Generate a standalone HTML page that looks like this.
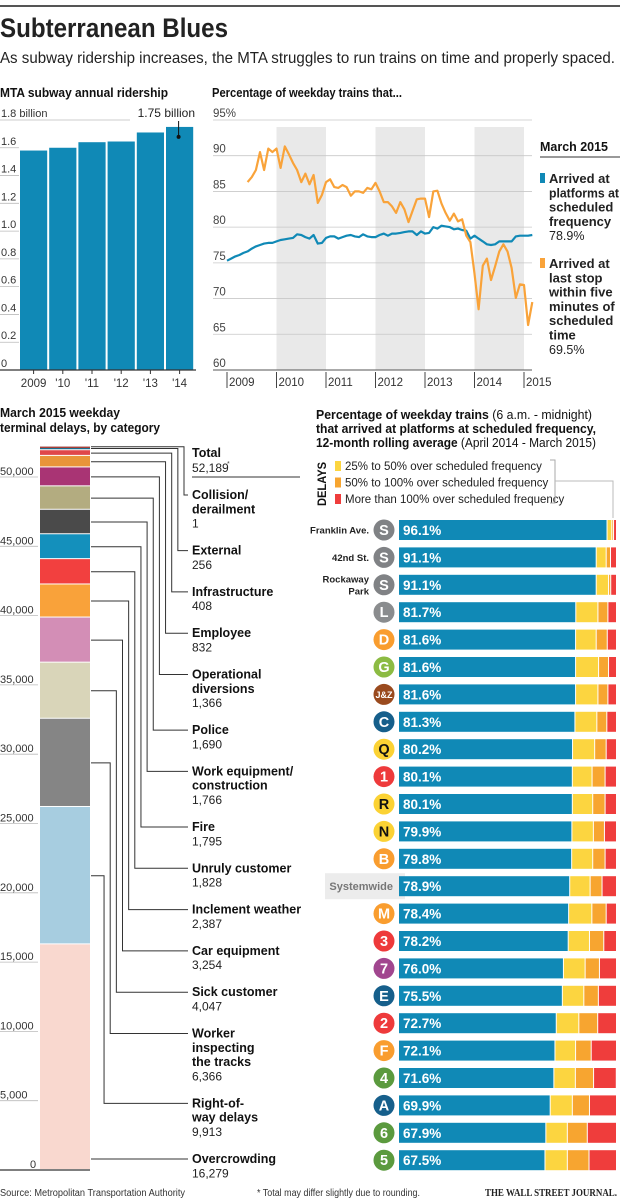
<!DOCTYPE html>
<html><head><meta charset="utf-8"><style>
html,body{margin:0;padding:0;background:#fff;}
svg{display:block;font-family:"Liberation Sans",sans-serif;}
.b{font-weight:bold;}
</style></head><body>
<svg id="root" width="620" height="1200" viewBox="0 0 620 1200" xmlns="http://www.w3.org/2000/svg">
<rect x="0" y="5" width="620" height="2" fill="#555"/>
<text x="0" y="37" font-size="27" class="b" fill="#222" textLength="228" lengthAdjust="spacingAndGlyphs">Subterranean Blues</text>
<text x="0" y="63" font-size="16" fill="#222" textLength="615" lengthAdjust="spacingAndGlyphs">As subway ridership increases, the MTA struggles to run trains on time and properly spaced.</text>
<text x="0" y="97" font-size="13" class="b" fill="#111" textLength="168" lengthAdjust="spacingAndGlyphs">MTA subway annual ridership</text>
<text x="212" y="97" font-size="13" class="b" fill="#111" textLength="190" lengthAdjust="spacingAndGlyphs">Percentage of weekday trains that...</text>
<text x="0" y="417" font-size="13" class="b" fill="#111" textLength="120" lengthAdjust="spacingAndGlyphs">March 2015 weekday</text>
<text x="0" y="432" font-size="13" class="b" fill="#111" textLength="160" lengthAdjust="spacingAndGlyphs">terminal delays, by category</text>
<text x="316" y="419" font-size="13" fill="#111" textLength="276" lengthAdjust="spacingAndGlyphs"><tspan class="b">Percentage of weekday trains</tspan> (6 a.m. - midnight)</text>
<text x="316" y="433" font-size="13" class="b" fill="#111" textLength="280" lengthAdjust="spacingAndGlyphs">that arrived at platforms at scheduled frequency,</text>
<text x="316" y="447" font-size="13" fill="#111" textLength="280" lengthAdjust="spacingAndGlyphs"><tspan class="b">12-month rolling average</tspan> (April 2014 - March 2015)</text>
<text x="0" y="1196" font-size="10" fill="#333" textLength="185" lengthAdjust="spacingAndGlyphs">Source: Metropolitan Transportation Authority</text>
<text x="257" y="1196" font-size="10" fill="#333" textLength="163" lengthAdjust="spacingAndGlyphs">* Total may differ slightly due to rounding.</text>
<text x="485" y="1196" font-size="11" fill="#222" font-weight="bold" font-family="Liberation Serif, serif" textLength="132" lengthAdjust="spacingAndGlyphs">THE WALL STREET JOURNAL.</text>
<g id="g1"></g>
<g id="g2"></g>
<g id="g3"></g>
<g id="g4"></g>
</svg>
<script>
// ---------- data ----------
const riderYears = ['2009', "'10", "'11", "'12", "'13", "'14"];
const riderValues = [1.58, 1.60, 1.64, 1.645, 1.71, 1.75];
const riderTicks = [0, 0.2, 0.4, 0.6, 0.8, 1.0, 1.2, 1.4, 1.6, 1.8];
const riderTickLabels = ['0', '0.2', '0.4', '0.6', '0.8', '1.0', '1.2', '1.4', '1.6', '1.8 billion'];

const lineYears = ['2009', '2010', '2011', '2012', '2013', '2014', '2015'];
const lineTicks = [60, 65, 70, 75, 80, 85, 90, 95];
const lineTickLabels = ['60', '65', '70', '75', '80', '85', '90', '95%'];
const platformSeries = [
  75.3,75.6,75.9,76.1,76.4,76.6,77.0,77.3,77.5,77.7,77.8,77.8,
  78.0,78.2,78.3,78.4,78.5,79.0,78.9,78.6,78.4,78.9,77.7,77.8,
  78.5,78.7,78.7,78.4,78.6,78.8,78.9,78.7,78.6,79.0,78.7,78.6,
  78.6,78.9,79.1,78.8,79.1,79.1,79.2,79.3,79.4,79.4,78.9,79.4,
  79.1,79.2,80.0,79.8,80.2,80.1,80.0,79.7,79.8,79.6,79.5,78.4,
  78.8,78.4,78.0,77.6,77.5,77.6,78.0,78.0,78.0,78.0,78.7,78.8,
  78.8,78.8,78.9];
const lastStopStart = 5;
const lastStopSeries = [
  86.3,87.0,88.0,90.5,88.0,91.0,90.5,
  91.0,88.3,91.3,90.2,89.0,88.0,86.3,87.5,86.0,87.3,83.4,84.5,
  86.3,86.7,85.6,85.5,85.9,85.6,84.4,85.0,85.0,84.8,85.5,85.3,
  86.2,85.0,83.5,83.5,82.9,82.0,83.5,82.5,80.7,82.3,83.9,84.0,
  84.0,81.4,85.0,85.1,83.3,82.0,80.9,81.9,80.8,81.1,78.8,77.9,
  73.5,68.5,74.6,75.6,72.6,74.5,76.6,77.6,76.6,74.3,70.1,72.0,
  71.9,66.3,69.5];

const delayCategories = ['Overcrowding','Right-of-|way delays','Worker|inspecting|the tracks','Sick customer','Car equipment','Inclement weather','Unruly customer','Fire','Work equipment/|construction','Police','Operational|diversions','Employee','Infrastructure','External','Collision/|derailment'];
const delayValues = [16279, 9913, 6366, 4047, 3254, 2387, 1828, 1795, 1766, 1690, 1366, 832, 408, 256, 1];
const delayTotal = 52189;
const delayTicks = [0, 5000, 10000, 15000, 20000, 25000, 30000, 35000, 40000, 45000, 50000];
const delayTickLabels = ['0','5,000','10,000','15,000','20,000','25,000','30,000','35,000','40,000','45,000','50,000'];

const routeNames = ['S','S','S','L','D','G','J&Z','C','Q','1','R','N','B','Systemwide','M','3','7','E','2','F','4','A','6','5'];
const routeSideLabels = ['Franklin Ave.','42nd St.','Rockaway|Park','','','','','','','','','','','','','','','','','','','','',''];
const onTimePct = [96.1,91.1,91.1,81.7,81.6,81.6,81.6,81.3,80.2,80.1,80.1,79.9,79.8,78.9,78.4,78.2,76.0,75.5,72.7,72.1,71.6,69.9,67.9,67.5];
const delay25to50 = [2.2,4.6,5.7,10.2,9.5,10.6,10.3,10.1,10.2,9.1,9.4,9.9,9.7,9.4,10.7,9.8,10.0,9.9,10.4,9.5,9.9,10.2,9.9,10.3];
const delay50to100 = [0.8,2.0,1.0,4.6,5.1,4.6,4.6,4.6,5.3,6.0,5.7,5.1,5.7,5.5,6.6,6.6,6.6,6.7,8.7,7.2,8.4,7.9,9.2,10.0];
const delayOver100 = [0.9,2.3,2.2,3.5,3.8,3.2,3.5,4.0,4.3,4.8,4.8,5.1,4.8,6.2,4.3,5.4,7.4,7.9,8.2,11.2,10.0,12.0,13.0,12.2];

// ---------- styles ----------
const BLUE = '#1089b6', ORANGE = '#f9a33a';
const delayColors = ['#f9d8cf','#a7cde0','#858585','#d9d5b9','#d38eb6','#f9a23a','#f2403f','#1490bc','#4a4a4a','#b3ac80','#a93474','#e8953a','#e0474a','#1a6e8e','#c0392b'];
const routeColors = {'S':'#808285','L':'#8a8c8e','D':'#f99d2f','G':'#8cbb43','J&Z':'#9a4a1e','C':'#165f8b','Q':'#fbd234','1':'#ee3a3b','R':'#fbd234','N':'#fbd234','B':'#f99d2f','M':'#f99d2f','3':'#ee3a3b','7':'#a1468f','E':'#165f8b','2':'#ee3a3b','F':'#f99d2f','4':'#5b9a3e','A':'#165f8b','6':'#5b9a3e','5':'#5b9a3e'};
const darkText = {'Q':1,'R':1,'N':1};

const NS = 'http://www.w3.org/2000/svg';
function mk(tag, attrs, parent, txt) {
  const e = document.createElementNS(NS, tag);
  for (const k in attrs) e.setAttribute(k, attrs[k]);
  if (txt !== undefined) e.textContent = txt;
  parent.appendChild(e);
  return e;
}
function fit(t, maxW) {
  const w = t.getComputedTextLength();
  if (w > maxW) { t.setAttribute('textLength', maxW); t.setAttribute('lengthAdjust', 'spacingAndGlyphs'); }
}
const fmt = v => v.toLocaleString('en-US');

// ---------- chart 1: ridership ----------
(function(){
  const g = document.getElementById('g1');
  const y = v => 370 - v * 138.9;
  const x0 = 19, bw = 29.2;
  riderTicks.forEach((t, i) => {
    const last = i === riderTicks.length - 1;
    const l = mk('line', {x1:0, x2: last ? 130 : x0, y1:y(t), y2:y(t), stroke:'#bbb', 'stroke-width':0.8}, g);
    
    
    const tx = mk('text', {x:1, y:y(t)-3, 'font-size':11, fill:'#333'}, g, riderTickLabels[i]);
    
    
  });
  riderValues.forEach((v, i) => {
    const r = mk('rect', {x: x0 + i*bw + 1, y: y(v), width: bw - 2, height: y(0) - y(v), fill: BLUE}, g);
    
    
    const t = mk('text', {x: x0 + i*bw + bw/2, y: 387, 'font-size':11.5, fill:'#333', 'text-anchor':'middle'}, g, riderYears[i]);
    
    
    const tk = mk('line', {x1: x0 + i*bw + bw/2, x2: x0 + i*bw + bw/2, y1: 370, y2: 374, stroke:'#333'}, g);
    
    
  });
  const ax = mk('line', {x1:0, x2:196, y1:370, y2:370, stroke:'#333', 'stroke-width':1.2}, g);
  
  
  const li = riderValues.length - 1, lx = x0 + li*bw + bw/2 - 1, lv = riderValues[li];
  const an = mk('text', {x: 195, y: 117, 'font-size':12, fill:'#222', 'text-anchor':'end'}, g, lv.toFixed(2) + ' billion');
  
  
  const pl = mk('line', {x1: lx, x2: lx, y1: 121, y2: y(lv) + 10, stroke:'#111', 'stroke-width':1}, g);
  
  
  const dot = mk('circle', {cx: lx, cy: y(lv) + 10, r: 2, fill:'#111'}, g);
  
  
})();

// ---------- chart 2: punctuality lines ----------
(function(){
  const g = document.getElementById('g2');
  const x = m => 227 + m / 12 * 49.5;
  const y = v => 370 - (v - 60) * 7.143;
  for (let k = 1; k < lineYears.length - 1; k += 2) {
    const b = mk('rect', {x: x(k*12), y: 127, width: x((k+1)*12) - x(k*12), height: 243, fill:'#e9e9e9'}, g);
    
    
  }
  lineTicks.forEach((t, i) => {
    const l = mk('line', {x1: 213, x2: 532, y1: y(t), y2: y(t), stroke: i === 0 ? '#555' : '#c8c8c8', 'stroke-width': i === 0 ? 1 : 0.8}, g);
    
    
    const tx = mk('text', {x: 213, y: y(t) - 3, 'font-size': 11.5, fill: '#444'}, g, lineTickLabels[i]);
    
    
  });
  lineYears.forEach((yr, i) => {
    const l = mk('line', {x1: x(i*12), x2: x(i*12), y1: 372, y2: 388, stroke: '#444'}, g);
    
    
    const t = mk('text', {x: x(i*12) + 2, y: 386, 'font-size': 11.5, fill: '#333'}, g, yr);
    
    
  });
  const p1 = mk('polyline', {points: platformSeries.map((v, i) => x(i).toFixed(1) + ',' + y(v).toFixed(1)).join(' '), fill: 'none', stroke: BLUE, 'stroke-width': 2.2, 'stroke-linejoin': 'round'}, g);
  
  
  const p2 = mk('polyline', {points: lastStopSeries.map((v, i) => x(i + lastStopStart).toFixed(1) + ',' + y(v).toFixed(1)).join(' '), fill: 'none', stroke: ORANGE, 'stroke-width': 2.2, 'stroke-linejoin': 'round'}, g);
  
  
  // legend
  const lh = mk('text', {x: 540, y: 151, 'font-size': 13, 'font-weight': 'bold', fill: '#111', textLength: 68, lengthAdjust: 'spacingAndGlyphs'}, g, 'March 2015');
  
  
  const ul = mk('line', {x1: 540, x2: 620, y1: 157, y2: 157, stroke: '#333'}, g);
  
  
  const entries = [
    {c: BLUE, lines: ['Arrived at', 'platforms at', 'scheduled', 'frequency'], val: platformSeries[platformSeries.length-1].toFixed(1) + '%', y0: 183, n: 'legend-entry-platform'},
    {c: ORANGE, lines: ['Arrived at', 'last stop', 'within five', 'minutes of', 'scheduled', 'time'], val: lastStopSeries[lastStopSeries.length-1].toFixed(1) + '%', y0: 268, n: 'legend-entry-last-stop'}
  ];
  entries.forEach(e => {
    const sw = mk('rect', {x: 540, y: e.y0 - 10, width: 5, height: 10, fill: e.c}, g);
    
    
    e.lines.forEach((ln, j) => {
      const t = mk('text', {x: 549, y: e.y0 + j*14.3, 'font-size': 13, 'font-weight': 'bold', fill: '#222'}, g, ln);
      
      
      fit(t, 70);
    });
    const vt = mk('text', {x: 549, y: e.y0 + e.lines.length*14.3, 'font-size': 12.5, fill: '#222'}, g, e.val);
    
    
  });
})();

// ---------- chart 3: delays stacked ----------
(function(){
  const g = document.getElementById('g3');
  const y = v => 1170 - v * 0.01386;
  delayTicks.forEach((t, i) => {
    const l = mk('line', {x1: 0, x2: 38, y1: y(t), y2: y(t), stroke: '#bbb', 'stroke-width': 0.8}, g);
    
    
    const tx = mk('text', {x: i === 0 ? 30 : 0, y: y(t) - 2, 'font-size': 11, fill: '#333'}, g, delayTickLabels[i]);
    
    
  });
  let cum = 0;
  const segs = [];
  delayValues.forEach((v, i) => {
    const y1 = y(cum + v), y2 = y(cum);
    const r = mk('rect', {x: 40, y: y1, width: 50, height: Math.max(y2 - y1 - 1, 1.2), fill: delayColors[i]}, g);
    
    
    segs.push({top: y1, bot: y2});
    cum += v;
  });
  const ax = mk('line', {x1: 0, x2: 90, y1: 1170, y2: 1170, stroke: '#333', 'stroke-width': 1.2}, g);
  
  
  const tt = mk('text', {x: 192, y: 457, 'font-size': 12.5, 'font-weight': 'bold', fill: '#111'}, g, 'Total');
  
  
  const tv = mk('text', {x: 192, y: 472, 'font-size': 12, fill: '#222'}, g, fmt(delayTotal));
  
  
  const ts = mk('text', {x: 227, y: 466, 'font-size': 7, fill: '#444'}, g, '*');
  
  
  const tl = mk('line', {x1: 192, x2: 300, y1: 477, y2: 477, stroke: '#333'}, g);
  
  
  let ly = 495;
  for (let k = 0; k < delayValues.length; k++) {
    const i = delayValues.length - 1 - k;
    const lines = delayCategories[i].split('|');
    lines.forEach((ln, j) => {
      const t = mk('text', {x: 192, y: ly + j*14.3 + 4, 'font-size': 12.5, 'font-weight': 'bold', fill: '#111'}, g, ln);
      
      
    });
    const vt = mk('text', {x: 192, y: ly + lines.length*14.3 + 4, 'font-size': 12, fill: '#222'}, g, fmt(delayValues[i]));
    
    
    const s = segs[i];
    let sy = (s.top + s.bot) / 2;
    if (k === 0) sy = s.top;
    let pts;
    if (ly >= s.top && ly <= s.bot) pts = `91,${ly} 188,${ly}`;
    else { const vx = 184 - k*6.15; pts = `91,${sy.toFixed(1)} ${vx},${sy.toFixed(1)} ${vx},${ly} 188,${ly}`; }
    const pl = mk('polyline', {points: pts, fill: 'none', stroke: '#333', 'stroke-width': 1}, g);
    
    
    ly = ly + (lines.length) * 14.3 + 27;
  }
})();

// ---------- chart 4: routes ----------
(function(){
  const g = document.getElementById('g4');
  const x = p => 399 + p * 2.17;
  const rowY = i => 520 + i * 27.4;
  const dl = mk('text', {x: 0, y: 0, 'font-size': 12, 'font-weight': 'bold', fill: '#111', transform: 'translate(326,506) rotate(-90)', textLength: 44, lengthAdjust: 'spacingAndGlyphs'}, g, 'DELAYS');
  
  
  const legItems = [['#fcd540', '25% to 50% over scheduled frequency'], ['#f7a530', '50% to 100% over scheduled frequency'], ['#ef3d3c', 'More than 100% over scheduled frequency']];
  legItems.forEach((it, j) => {
    const r = mk('rect', {x: 335, y: 461 + j*16.5, width: 6, height: 10, fill: it[0]}, g);
    
    
    const t = mk('text', {x: 345, y: 470 + j*16.5, 'font-size': 11.5, fill: '#222'}, g, it[1]);
    
    
  });
  const br = mk('polyline', {points: '550,460 555,460 555,503 550,503', fill: 'none', stroke: '#aaa'}, g);
  
  
  const br2 = mk('polyline', {points: '555,481 613,481 613,518', fill: 'none', stroke: '#bbb'}, g);
  
  
  routeNames.forEach((nm, i) => {
    const top = rowY(i), cy = top + 10;
    if (nm === 'Systemwide') {
      const bg = mk('rect', {x: 325, y: top - 3, width: 80, height: 26, fill: '#ececec'}, g);
      
      
      const t = mk('text', {x: 393, y: cy + 4, 'font-size': 11, 'font-weight': 'bold', fill: '#777', 'text-anchor': 'end'}, g, 'Systemwide');
      
      
    } else {
      const c = mk('circle', {cx: 384, cy: cy, r: 10.5, fill: routeColors[nm]}, g);
      
      
      const t = mk('text', {x: 384, y: cy + (nm === 'J&Z' ? 3.5 : 5), 'font-size': nm === 'J&Z' ? 9 : 14.5, 'font-weight': 'bold', fill: darkText[nm] ? '#111' : '#fff', 'text-anchor': 'middle'}, g, nm);
      
      
    }
    const side = routeSideLabels[i];
    if (side) {
      const ls = side.split('|');
      ls.forEach((s, j) => {
        const t = mk('text', {x: 369, y: cy + 3.5 + (j - (ls.length - 1)/2) * 12, 'font-size': 9.5, 'font-weight': 'bold', fill: '#222', 'text-anchor': 'end'}, g, s);
        
        
      });
    }
    const segsArr = [[onTimePct[i], BLUE, 'on-time'], [delay25to50[i], '#fcd540', 'delay-25-50'], [delay50to100[i], '#f7a530', 'delay-50-100'], [delayOver100[i], '#ef3d3c', 'delay-over-100']];
    let acc = 0;
    segsArr.forEach((sg, k) => {
      const w = Math.min(x(acc + sg[0]), 616) - x(acc) - (k < 3 ? 1 : 0);
      const r = mk('rect', {x: x(acc), y: top, width: Math.max(w, 0.6), height: 20, fill: sg[1]}, g);
      
      
      acc += sg[0];
    });
    const pt = mk('text', {x: 403, y: top + 15, 'font-size': 13.5, 'font-weight': 'bold', fill: '#fff'}, g, onTimePct[i].toFixed(1) + '%');
    
    
  });
})();
</script>
</body></html>
